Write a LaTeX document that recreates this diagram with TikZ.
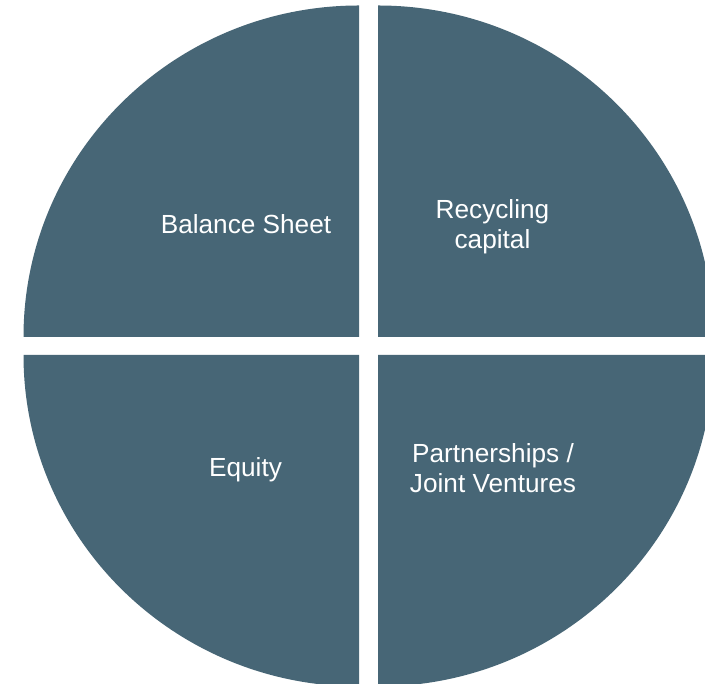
\documentclass[tikz,border=0pt]{standalone}
\usepackage{fontspec}
\setmainfont{Liberation Sans}
\definecolor{slate}{RGB}{71,102,118}
\begin{document}
\begin{tikzpicture}[x=1pt,y=1pt,
  quad/.style={fill=slate,draw=none},
  lbl/.style={text=white,font=\fontsize{26.2}{29.5}\selectfont,align=center,inner sep=0pt,anchor=base}]
\clip (0,0) rectangle (705,684);
\fill[white] (0,0) rectangle (705,684);
% top-left
\path[quad] (359,347) -- (23.5,347) arc[start angle=180,end angle=90,x radius=335.5,y radius=331.5] -- cycle;
% top-right
\path[quad] (378,347) -- (378,678.5) arc[start angle=90,end angle=0,x radius=335.5,y radius=331.5] -- cycle;
% bottom-left
\path[quad] (359,329) -- (23.5,329) arc[start angle=180,end angle=270,x radius=335.5,y radius=331.5] -- cycle;
% bottom-right
\path[quad] (378,329) -- (378,-2.5) arc[start angle=270,end angle=360,x radius=335.5,y radius=331.5] -- cycle;
\node[lbl] (bs) at (246,450.5) {Balance Sheet};
\node[lbl] (rc) at (492.5,435.5) {Recycling\\capital};
\node[lbl] (eq) at (245.5,207) {Equity};
\node[lbl] (pj) at (493,191.5) {Partnerships /\\Joint Ventures};
\end{tikzpicture}
\end{document}
